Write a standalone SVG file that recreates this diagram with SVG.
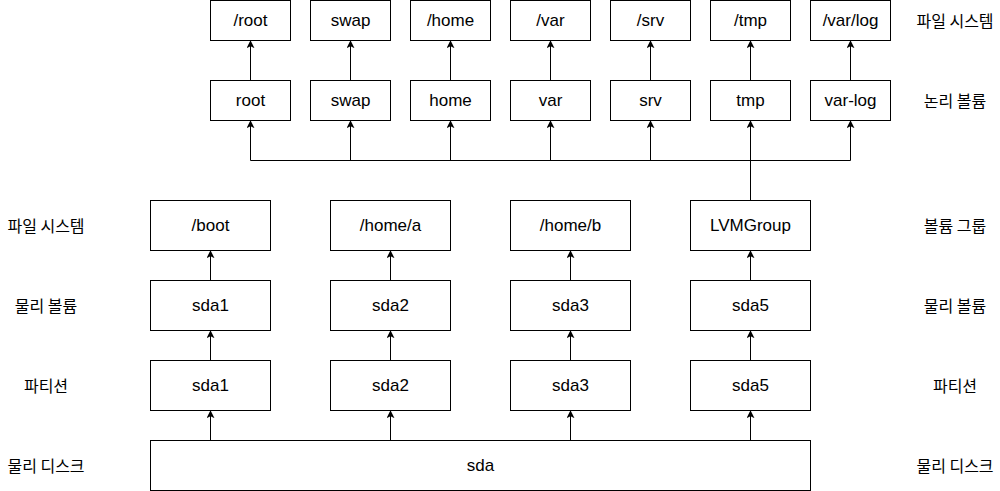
<svg xmlns="http://www.w3.org/2000/svg" width="1000" height="491" viewBox="0 0 1000 491">
<style>
rect{fill:#fff;stroke:#000;stroke-width:1}
.t{font-family:"Liberation Sans",Arial,sans-serif;font-size:17px;fill:#000;text-anchor:middle;dominant-baseline:central}
.k{font-family:"Noto Sans CJK KR","Liberation Sans",sans-serif;font-size:16px;fill:#000;text-anchor:middle;dominant-baseline:central}
.c{fill:none;stroke:#000;stroke-width:1}
.a{marker-end:url(#ah)}
</style>
<defs>
<marker id="ah" viewBox="0 0 10 10" refX="9" refY="5" markerWidth="8" markerHeight="8" markerUnits="userSpaceOnUse" orient="auto">
<path d="M0,0 L10,5 L0,10 L2.5,5 Z" fill="#000"/>
</marker>
</defs>
<g id="connectors">
<path class="c a" d="M250.5,80 V41"/>
<path class="c a" d="M350.5,80 V41"/>
<path class="c a" d="M450.5,80 V41"/>
<path class="c a" d="M550.5,80 V41"/>
<path class="c a" d="M650.5,80 V41"/>
<path class="c a" d="M750.5,80 V41"/>
<path class="c a" d="M850.5,80 V41"/>
<path class="c" d="M250.5,160.5 H850.5"/>
<path class="c" d="M750.5,200 V160.5"/>
<path class="c a" d="M250.5,160.5 V121"/>
<path class="c a" d="M350.5,160.5 V121"/>
<path class="c a" d="M450.5,160.5 V121"/>
<path class="c a" d="M550.5,160.5 V121"/>
<path class="c a" d="M650.5,160.5 V121"/>
<path class="c a" d="M750.5,160.5 V121"/>
<path class="c a" d="M850.5,160.5 V121"/>
<path class="c a" d="M210.5,280 V251"/>
<path class="c a" d="M390.5,280 V251"/>
<path class="c a" d="M570.5,280 V251"/>
<path class="c a" d="M750.5,280 V251"/>
<path class="c a" d="M210.5,360 V331"/>
<path class="c a" d="M390.5,360 V331"/>
<path class="c a" d="M570.5,360 V331"/>
<path class="c a" d="M750.5,360 V331"/>
<path class="c a" d="M210.5,440 V411"/>
<path class="c a" d="M390.5,440 V411"/>
<path class="c a" d="M570.5,440 V411"/>
<path class="c a" d="M750.5,440 V411"/>
</g>
<g id="fs-root"><rect x="210.5" y="0.5" width="80" height="40"/><text class="t" x="250.5" y="20.5">/root</text></g>
<g id="fs-swap"><rect x="310.5" y="0.5" width="80" height="40"/><text class="t" x="350.5" y="20.5">swap</text></g>
<g id="fs-home"><rect x="410.5" y="0.5" width="80" height="40"/><text class="t" x="450.5" y="20.5">/home</text></g>
<g id="fs-var"><rect x="510.5" y="0.5" width="80" height="40"/><text class="t" x="550.5" y="20.5">/var</text></g>
<g id="fs-srv"><rect x="610.5" y="0.5" width="80" height="40"/><text class="t" x="650.5" y="20.5">/srv</text></g>
<g id="fs-tmp"><rect x="710.5" y="0.5" width="80" height="40"/><text class="t" x="750.5" y="20.5">/tmp</text></g>
<g id="fs-varlog"><rect x="810.5" y="0.5" width="80" height="40"/><text class="t" x="850.5" y="20.5">/var/log</text></g>
<g id="lv-root"><rect x="210.5" y="80.5" width="80" height="40"/><text class="t" x="250.5" y="100.5">root</text></g>
<g id="lv-swap"><rect x="310.5" y="80.5" width="80" height="40"/><text class="t" x="350.5" y="100.5">swap</text></g>
<g id="lv-home"><rect x="410.5" y="80.5" width="80" height="40"/><text class="t" x="450.5" y="100.5">home</text></g>
<g id="lv-var"><rect x="510.5" y="80.5" width="80" height="40"/><text class="t" x="550.5" y="100.5">var</text></g>
<g id="lv-srv"><rect x="610.5" y="80.5" width="80" height="40"/><text class="t" x="650.5" y="100.5">srv</text></g>
<g id="lv-tmp"><rect x="710.5" y="80.5" width="80" height="40"/><text class="t" x="750.5" y="100.5">tmp</text></g>
<g id="lv-varlog"><rect x="810.5" y="80.5" width="80" height="40"/><text class="t" x="850.5" y="100.5">var-log</text></g>
<g id="fs-boot"><rect x="150.5" y="200.5" width="120" height="50"/><text class="t" x="210.5" y="225.5">/boot</text></g>
<g id="fs-home-a"><rect x="330.5" y="200.5" width="120" height="50"/><text class="t" x="390.5" y="225.5">/home/a</text></g>
<g id="fs-home-b"><rect x="510.5" y="200.5" width="120" height="50"/><text class="t" x="570.5" y="225.5">/home/b</text></g>
<g id="vg"><rect x="690.5" y="200.5" width="120" height="50"/><text class="t" x="750.5" y="225.5">LVMGroup</text></g>
<g id="pv-sda1"><rect x="150.5" y="280.5" width="120" height="50"/><text class="t" x="210.5" y="305.5">sda1</text></g>
<g id="pv-sda2"><rect x="330.5" y="280.5" width="120" height="50"/><text class="t" x="390.5" y="305.5">sda2</text></g>
<g id="pv-sda3"><rect x="510.5" y="280.5" width="120" height="50"/><text class="t" x="570.5" y="305.5">sda3</text></g>
<g id="pv-sda5"><rect x="690.5" y="280.5" width="120" height="50"/><text class="t" x="750.5" y="305.5">sda5</text></g>
<g id="pt-sda1"><rect x="150.5" y="360.5" width="120" height="50"/><text class="t" x="210.5" y="385.5">sda1</text></g>
<g id="pt-sda2"><rect x="330.5" y="360.5" width="120" height="50"/><text class="t" x="390.5" y="385.5">sda2</text></g>
<g id="pt-sda3"><rect x="510.5" y="360.5" width="120" height="50"/><text class="t" x="570.5" y="385.5">sda3</text></g>
<g id="pt-sda5"><rect x="690.5" y="360.5" width="120" height="50"/><text class="t" x="750.5" y="385.5">sda5</text></g>
<g id="disk"><rect x="150.5" y="440.5" width="660" height="50"/><text class="t" x="480.5" y="465.5">sda</text></g>
<g id="labels">
<text class="k" x="955" y="20">파일 시스템</text>
<text class="k" x="955" y="100">논리 볼륨</text>
<text class="k" x="955" y="225">볼륨 그룹</text>
<text class="k" x="955" y="305">물리 볼륨</text>
<text class="k" x="955" y="385">파티션</text>
<text class="k" x="955" y="465">물리 디스크</text>
<text class="k" x="46" y="225">파일 시스템</text>
<text class="k" x="46" y="305">물리 볼륨</text>
<text class="k" x="46" y="385">파티션</text>
<text class="k" x="46" y="465">물리 디스크</text>
</g>
</svg>
